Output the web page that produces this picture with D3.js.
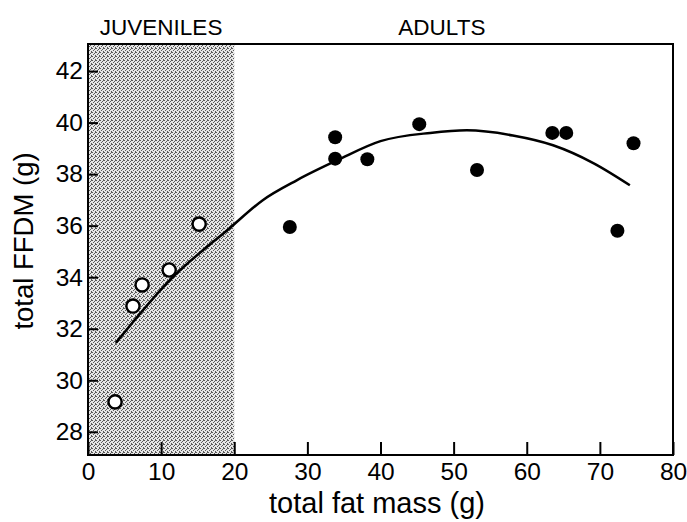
<!DOCTYPE html>
<html>
<head>
<meta charset="utf-8">
<script src="https://cdn.jsdelivr.net/npm/d3@7"></script>
<style>
  body { margin: 0; background: #fff; }
  text { font-family: "Liberation Sans", Arial, sans-serif; fill: #000; }
</style>
</head>
<body>
<div class="chart"></div>
<script>
// juveniles (open circles)
var juvFat = [3.7, 6.15, 7.4, 11.1, 15.2];
var juvFfdm = [29.16, 32.88, 33.7, 34.28, 36.06];

// adults (filled circles)
var adultFat = [27.6, 33.8, 33.8, 38.2, 45.3, 53.2, 63.5, 65.4, 72.4, 74.6];
var adultFfdm = [35.95, 39.43, 38.6, 38.58, 39.94, 38.16, 39.6, 39.6, 35.8, 39.2];

// fitted curve
var curveFat = [3.8, 11.2, 19.4, 23.9, 28.6, 34.1, 40, 46.8, 51.8, 58.1, 63.6, 69.1, 74.1];
var curveFfdm = [31.45, 33.89, 35.91, 36.99, 37.77, 38.54, 39.28, 39.6, 39.7, 39.5, 39.12, 38.43, 37.57];

var xTicks = [0, 10, 20, 30, 40, 50, 60, 70, 80];
var yTicks = [28, 30, 32, 34, 36, 38, 40, 42];
var juvenileLimit = 20;

var margin = { top: 44, right: 14, bottom: 67, left: 88 };
var width = 687 - margin.left - margin.right;
var height = 522 - margin.top - margin.bottom;

var x = d3.scaleLinear().domain([0, 80]).range([0, width]);
var y = d3.scaleLinear().domain([27.1, 43.05]).range([height, 0]);

var svg = d3.select(".chart").append("svg")
  .attr("width", 687)
  .attr("height", 522);

var defs = svg.append("defs");
var pat = defs.append("pattern")
  .attr("id", "stipple")
  .attr("width", 4).attr("height", 4)
  .attr("patternUnits", "userSpaceOnUse");
pat.append("rect").attr("width", 4).attr("height", 4).attr("fill", "#e6e6e6");
[[0, 0], [2, 1], [1, 2], [3, 3], [3, 0]].forEach(function(p) {
  pat.append("rect").attr("x", p[0]).attr("y", p[1])
    .attr("width", 1).attr("height", 1).attr("fill", "#5a5a5a");
});

var g = svg.append("g")
  .attr("transform", `translate(${margin.left}, ${margin.top})`);

// juvenile band
g.append("rect")
  .attr("x", x(0))
  .attr("y", 0)
  .attr("width", x(juvenileLimit) - x(0))
  .attr("height", height)
  .attr("fill", "url(#stipple)");

// axes
var xAxis = g.append("g")
  .attr("transform", `translate(0, ${height})`)
  .call(d3.axisBottom(x).tickValues(xTicks).tickSize(-13).tickPadding(8));
var yAxis = g.append("g")
  .call(d3.axisLeft(y).tickValues(yTicks).tickSize(-10).tickPadding(5));

[xAxis, yAxis].forEach(function(a) {
  a.select(".domain").remove();
  a.selectAll("line").attr("stroke", "#000").attr("stroke-width", 2);
  a.selectAll("text")
    .attr("font-family", "Liberation Sans, Arial, sans-serif")
    .attr("font-size", 24.5)
    .attr("fill", "#000");
});

// frame
g.append("rect")
  .attr("width", width)
  .attr("height", height)
  .attr("fill", "none")
  .attr("stroke", "#000")
  .attr("stroke-width", 2);

// curve
var line = d3.line()
  .x(function(d, i) { return x(curveFat[i]); })
  .y(function(d) { return y(d); })
  .curve(d3.curveMonotoneX);

g.append("path")
  .datum(curveFfdm)
  .attr("d", line)
  .attr("fill", "none")
  .attr("stroke", "#000")
  .attr("stroke-width", 2.5);

// points
g.selectAll(".juv")
  .data(juvFfdm)
  .enter().append("circle")
  .attr("class", "juv")
  .attr("cx", function(d, i) { return x(juvFat[i]); })
  .attr("cy", function(d) { return y(d); })
  .attr("r", 6.6)
  .attr("fill", "#fff")
  .attr("stroke", "#000")
  .attr("stroke-width", 2.4);

g.selectAll(".adult")
  .data(adultFfdm)
  .enter().append("circle")
  .attr("class", "adult")
  .attr("cx", function(d, i) { return x(adultFat[i]); })
  .attr("cy", function(d) { return y(d); })
  .attr("r", 7)
  .attr("fill", "#000");

// group labels
g.append("text")
  .attr("x", x(10))
  .attr("y", -9)
  .attr("text-anchor", "middle")
  .attr("font-size", 22.5)
  .text("JUVENILES");

g.append("text")
  .attr("x", x(48.4))
  .attr("y", -9)
  .attr("text-anchor", "middle")
  .attr("font-size", 22.5)
  .text("ADULTS");

// axis titles
svg.append("text")
  .attr("x", 377)
  .attr("y", 513)
  .attr("text-anchor", "middle")
  .attr("font-size", 29)
  .text("total fat mass (g)");

svg.append("text")
  .attr("transform", "translate(33, 241) rotate(-90)")
  .attr("text-anchor", "middle")
  .attr("font-size", 27.5)
  .text("total FFDM (g)");
</script>
</body>
</html>
